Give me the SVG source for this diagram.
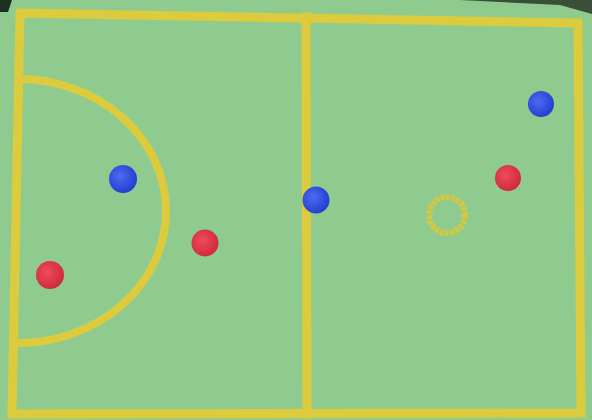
<svg xmlns="http://www.w3.org/2000/svg" width="592" height="420" viewBox="0 0 592 420">
<defs>
<style>
.line{fill:none;stroke:#dccb3c;stroke-width:9;stroke-linecap:square;stroke-linejoin:miter}
.arc{fill:none;stroke:#dccb3c;stroke-width:8}
.ring{fill:none;stroke:#d9c93a;stroke-width:6;stroke-dasharray:4 1.2;opacity:0.9}
</style>
<radialGradient id="gb" cx="0.4" cy="0.4" r="0.6"><stop offset="0" stop-color="#4a6cf2"/><stop offset="1" stop-color="#2540d0"/></radialGradient>
<radialGradient id="gr" cx="0.4" cy="0.4" r="0.6"><stop offset="0" stop-color="#f04a5e"/><stop offset="1" stop-color="#d02a40"/></radialGradient>
</defs>
<rect x="0" y="0" width="592" height="420" fill="#8fcb8f"/>
<path d="M0 0 H12 L8 12 H0 Z" fill="#203020"/>
<path d="M460 0 H592 V14 L560 5 Z" fill="#2a3a2a" opacity="0.85"/>
<g id="court">
<path class="line" d="M20 13 L578 23 L581 413 L12 414 Z"/>
<line class="line" x1="306" y1="17" x2="307" y2="414"/>
<path class="arc" d="M18 79 A148 132 0 0 1 18 343"/>
<circle class="ring" cx="447" cy="215" r="18"/>
</g>
<g id="pieces">
<circle id="blue1" cx="123" cy="179" r="14" fill="url(#gb)"/>
<circle id="red1" cx="205" cy="243" r="13.5" fill="url(#gr)"/>
<circle id="red2" cx="50" cy="275" r="14" fill="url(#gr)"/>
<circle id="blue2" cx="316" cy="200" r="13.5" fill="url(#gb)"/>
<circle id="red3" cx="508" cy="178" r="13" fill="url(#gr)"/>
<circle id="blue3" cx="541" cy="104" r="13" fill="url(#gb)"/>
</g>
</svg>
